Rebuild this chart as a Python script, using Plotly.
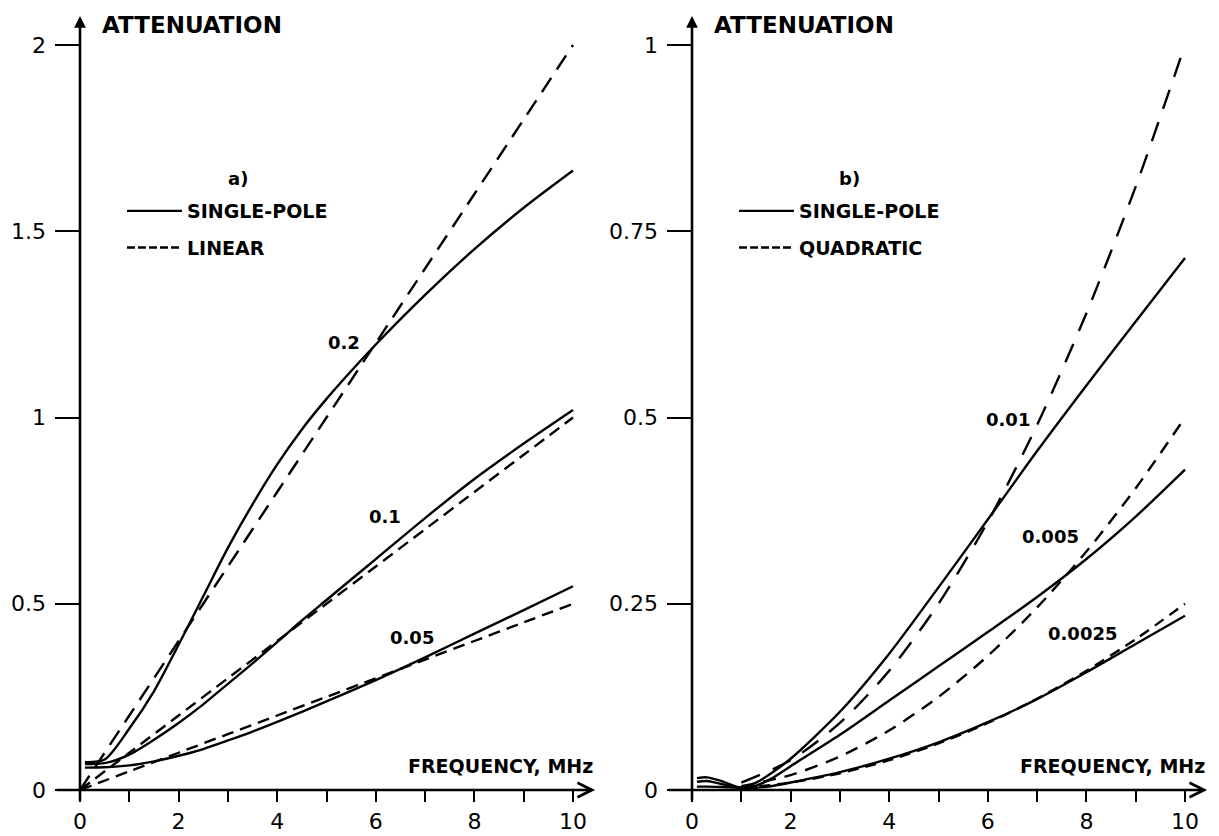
import plotly.graph_objects as go

W, H = 1219, 836

# ---------------- data: panel a) ----------------
freq_sp_a = [0.1, 0.5, 1, 1.5, 2, 2.5, 3, 3.5, 4, 4.5, 5, 5.5, 6, 7, 8, 9, 10]
sp_a_020 = [0.075, 0.082, 0.165, 0.265, 0.39, 0.52, 0.65, 0.767, 0.874, 0.968, 1.05, 1.125, 1.196, 1.329, 1.452, 1.563, 1.663]
sp_a_010 = [0.07, 0.072, 0.095, 0.135, 0.18, 0.23, 0.285, 0.34, 0.397, 0.455, 0.51, 0.565, 0.62, 0.73, 0.835, 0.93, 1.02]
sp_a_005 = [0.06, 0.061, 0.066, 0.077, 0.092, 0.11, 0.133, 0.157, 0.183, 0.21, 0.238, 0.266, 0.295, 0.356, 0.42, 0.483, 0.547]

freq_lin = [0, 1, 2, 3, 4, 5, 6, 7, 8, 9, 10]
lin_020 = [0, 0.2, 0.4, 0.6, 0.8, 1.0, 1.2, 1.4, 1.6, 1.8, 2.0]
lin_010 = [0, 0.1, 0.2, 0.3, 0.4, 0.5, 0.6, 0.7, 0.8, 0.9, 1.0]
lin_005 = [0, 0.05, 0.1, 0.15, 0.2, 0.25, 0.3, 0.35, 0.4, 0.45, 0.5]

labels_a = ["0.2", "0.1", "0.05"]
label_pos_a = [(5.35, 1.20), (6.18, 0.733), (6.73, 0.41)]

# ---------------- data: panel b) ----------------
freq_sp_b = [0.1, 0.3, 0.6, 1.0, 1.3, 1.6, 2, 3, 4, 5, 6, 7, 8, 9, 10]
sp_b_0100 = [0.016, 0.017, 0.012, 0.003, 0.01, 0.022, 0.042, 0.105, 0.183, 0.272, 0.363, 0.455, 0.543, 0.629, 0.714]
sp_b_0050 = [0.011, 0.012, 0.008, 0.003, 0.006, 0.015, 0.032, 0.074, 0.12, 0.166, 0.212, 0.259, 0.31, 0.367, 0.43]
sp_b_0025 = [0.0045, 0.0045, 0.004, 0.003, 0.003, 0.005, 0.01, 0.024, 0.042, 0.064, 0.091, 0.122, 0.158, 0.196, 0.234]

freq_quad = [1, 2, 3, 4, 5, 6, 7, 8, 9, 10]
quad_0100 = [0.01, 0.04, 0.09, 0.16, 0.25, 0.36, 0.49, 0.64, 0.81, 1.0]
quad_0050 = [0.005, 0.02, 0.045, 0.08, 0.125, 0.18, 0.245, 0.32, 0.405, 0.5]
quad_0025 = [0.0025, 0.01, 0.0225, 0.04, 0.0625, 0.09, 0.1225, 0.16, 0.2025, 0.25]

labels_b = ["0.01", "0.005", "0.0025"]
label_pos_b = [(6.4, 0.497), (7.27, 0.34), (7.93, 0.21)]

# ---------------- tick labels ----------------
x_tickvals = list(range(11))
x_ticktext = ["0", "", "2", "", "4", "", "6", "", "8", "", "10"]
ya_tickvals = [0, 0.5, 1, 1.5, 2]
ya_ticktext = ["0", "0.5", "1", "1.5", "2"]
yb_tickvals = [0, 0.25, 0.5, 0.75, 1]
yb_ticktext = ["0", "0.25", "0.5", "0.75", "1"]

# ---------------- styling / layout helpers ----------------
BLACK = "#000000"
FONT = "DejaVu Sans"
LW = 2.4

def px_x(p):
    return p / W

def px_y(p):
    return 1 - p / H

fig = go.Figure()

def solid(x, y, xa, ya):
    fig.add_trace(go.Scatter(x=x, y=y, xaxis=xa, yaxis=ya, mode="lines",
                             line=dict(color=BLACK, width=LW, shape="spline", smoothing=0.8),
                             showlegend=False, hoverinfo="skip"))

def dashed(x, y, xa, ya, dash):
    fig.add_trace(go.Scatter(x=x, y=y, xaxis=xa, yaxis=ya, mode="lines",
                             line=dict(color=BLACK, width=LW, shape="spline", smoothing=0.8, dash=dash),
                             showlegend=False, hoverinfo="skip"))

# panel a
solid(freq_sp_a, sp_a_020, "x", "y")
solid(freq_sp_a, sp_a_010, "x", "y")
solid(freq_sp_a, sp_a_005, "x", "y")
dashed(freq_lin, lin_020, "x", "y", "17px,10px")
dashed(freq_lin, lin_010, "x", "y", "12px,7px")
dashed(freq_lin, lin_005, "x", "y", "12px,7px")

# panel b
solid(freq_sp_b, sp_b_0100, "x2", "y2")
solid(freq_sp_b, sp_b_0050, "x2", "y2")
solid(freq_sp_b, sp_b_0025, "x2", "y2")
dashed(freq_quad, quad_0100, "x2", "y2", "20px,14px")
dashed(freq_quad, quad_0050, "x2", "y2", "13px,9px")
dashed(freq_quad, quad_0025, "x2", "y2", "11px,7px")

# legend keys
for name, dash, leg, grp in [("SINGLE-POLE", "solid", "legend", "a1"),
                             ("LINEAR", "8px,3px", "legend", "a2"),
                             ("SINGLE-POLE", "solid", "legend2", "b1"),
                             ("QUADRATIC", "8px,3px", "legend2", "b2")]:
    fig.add_trace(go.Scatter(x=[None], y=[None], mode="lines", name=name, legend=leg,
                             legendgroup=grp,
                             line=dict(color=BLACK, width=LW, dash=dash),
                             xaxis="x" if leg == "legend" else "x2",
                             yaxis="y" if leg == "legend" else "y2"))

# axis geometry (pixels)
X0_A, X0_B = 80, 692          # frequency 0
PX_PER_MHZ = 49.3
Y0 = 790                      # attenuation 0
Y_TOP_TICK = 45               # top tick
PLOT_LEFT_A, PLOT_LEFT_B = 55, 667
PLOT_RIGHT_A, PLOT_RIGHT_B = 603, 1215
PLOT_BOTTOM, PLOT_TOP = 802, 12

def xrange_for(x0, left, right):
    return [(left - x0) / PX_PER_MHZ, (right - x0) / PX_PER_MHZ]

def yrange_for(ymax):
    s = (Y0 - Y_TOP_TICK) / ymax
    return [(Y0 - PLOT_BOTTOM) / s, (Y0 - PLOT_TOP) / s]

tickfont = dict(family=FONT, size=22, color=BLACK)

xcommon = dict(tickmode="array", tickvals=x_tickvals, ticktext=x_ticktext,
               ticks="inside", ticklen=12, tickwidth=2, tickcolor=BLACK,
               showgrid=False, zeroline=False, showline=False,
               tickfont=tickfont, ticklabelstandoff=4, fixedrange=True)
ycommon = dict(tickmode="array", ticks="inside", ticklen=25, tickwidth=2, tickcolor=BLACK,
               showgrid=False, zeroline=False, showline=False,
               tickfont=tickfont, ticklabelstandoff=8, fixedrange=True)

legend_common = dict(xanchor="left", yanchor="top",
                     font=dict(family=FONT, size=19, color=BLACK, weight="bold"),
                     bgcolor="rgba(0,0,0,0)", itemwidth=55, tracegroupgap=9)

fig.update_layout(
    width=W, height=H,
    margin=dict(l=0, r=0, t=0, b=0),
    paper_bgcolor="white", plot_bgcolor="white",
    xaxis=dict(domain=[px_x(PLOT_LEFT_A), px_x(PLOT_RIGHT_A)],
               range=xrange_for(X0_A, PLOT_LEFT_A, PLOT_RIGHT_A), anchor="y", **xcommon),
    yaxis=dict(domain=[px_y(PLOT_BOTTOM), px_y(PLOT_TOP)], range=yrange_for(2.0),
               tickvals=ya_tickvals, ticktext=ya_ticktext, anchor="x", **ycommon),
    xaxis2=dict(domain=[px_x(PLOT_LEFT_B), px_x(PLOT_RIGHT_B)],
                range=xrange_for(X0_B, PLOT_LEFT_B, PLOT_RIGHT_B), anchor="y2", **xcommon),
    yaxis2=dict(domain=[px_y(PLOT_BOTTOM), px_y(PLOT_TOP)], range=yrange_for(1.0),
                tickvals=yb_tickvals, ticktext=yb_ticktext, anchor="x2", **ycommon),
    legend=dict(x=px_x(122), y=px_y(192), **legend_common),
    legend2=dict(x=px_x(734), y=px_y(192), **legend_common),
    showlegend=True,
)

annotations = []
bold = lambda size: dict(family=FONT, size=size, color=BLACK, weight="bold")

for xr, yr, ytop in [("x", "y", 2.0), ("x2", "y2", 1.0)]:
    s = (Y0 - Y_TOP_TICK) / ytop
    y_bottom = (Y0 - PLOT_BOTTOM) / s
    y_tip = (Y0 - 16) / s
    # horizontal axis with arrow
    annotations.append(dict(x=10.45, y=0, ax=-0.5, ay=0, xref=xr, yref=yr, axref=xr, ayref=yr,
                            text="", showarrow=True, arrowhead=5, arrowsize=1.1,
                            arrowwidth=2.6, arrowcolor=BLACK, standoff=0, startstandoff=0))
    # vertical axis with arrow
    annotations.append(dict(x=0, y=y_tip, ax=0, ay=y_bottom, xref=xr, yref=yr, axref=xr, ayref=yr,
                            text="", showarrow=True, arrowhead=2, arrowsize=0.9,
                            arrowwidth=2.6, arrowcolor=BLACK, standoff=0, startstandoff=0))
    # axis titles
    annotations.append(dict(x=0.41, y=(Y0 - 25) / s, xref=xr, yref=yr, text="ATTENUATION",
                            showarrow=False, xanchor="left", yanchor="middle", font=bold(23)))
    annotations.append(dict(x=10.45, y=(Y0 - 766) / s, xref=xr, yref=yr, text="FREQUENCY, MHz",
                            showarrow=False, xanchor="right", yanchor="middle", font=bold(19)))
    # panel tag
    annotations.append(dict(x=3.2, y=(Y0 - 179) / s, xref=xr, yref=yr,
                            text="a)" if xr == "x" else "b)",
                            showarrow=False, xanchor="center", yanchor="middle", font=bold(18)))

for txt, (fx, fy) in zip(labels_a, label_pos_a):
    annotations.append(dict(x=fx, y=fy, xref="x", yref="y", text=txt, showarrow=False,
                            xanchor="center", yanchor="middle", font=bold(18)))
for txt, (fx, fy) in zip(labels_b, label_pos_b):
    annotations.append(dict(x=fx, y=fy, xref="x2", yref="y2", text=txt, showarrow=False,
                            xanchor="center", yanchor="middle", font=bold(18)))

fig.update_layout(annotations=annotations)

fig.write_html("out.html")
